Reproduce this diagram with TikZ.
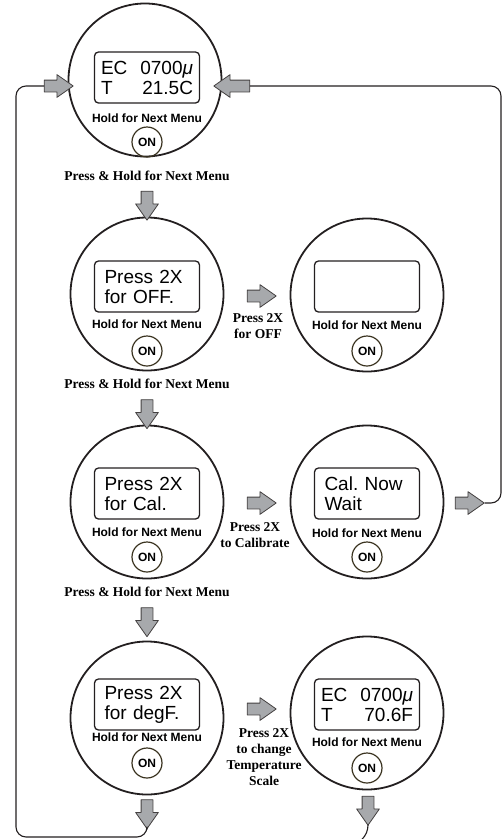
\documentclass[tikz,border=0pt]{standalone}
\usepackage{fontspec}
\setmainfont{Liberation Sans}
\newfontfamily\capfont{Liberation Serif}
\usetikzlibrary{calc,shapes.arrows}
\definecolor{inkdark}{HTML}{231F20}
\definecolor{arrowgray}{HTML}{A7A9AC}
\definecolor{onring}{HTML}{3A3320}
\tikzset{
    meter/.style={
        circle, draw=inkdark, line width=1.8pt,
        minimum size=153pt, inner sep=0pt
    },
    lcd/.style={
        draw=inkdark, line width=1.3pt, rounded corners=4pt,
        minimum width=105pt, minimum height=51pt, inner ysep=0pt,
        align=left, font=\fontsize{19}{20}\selectfont
    },
    lcdtext/.style={lcd, text width=85pt, inner xsep=10pt},
    lcdread/.style={lcd, text width=92pt, inner xsep=6.5pt},
    hold/.style={font=\bfseries\fontsize{12}{14}\selectfont, inner sep=0pt},
    onbtn/.style={
        circle, draw=onring, line width=1.2pt,
        minimum size=30pt, inner sep=0pt,
        font=\bfseries\fontsize{12}{14}\selectfont
    },
    blk/.style={
        single arrow, draw=inkdark!85, fill=arrowgray, line width=0.8pt,
        minimum height=29pt, inner sep=5.5pt,
        single arrow head extend=5.5pt, single arrow tip angle=70
    },
    note/.style={
        font=\capfont\bfseries\fontsize{13.5}{16}\selectfont,
        align=center, inner sep=0pt
    },
    loopline/.style={draw=inkdark, line width=1.1pt, rounded corners=10pt}
}

\begin{document}
\begin{tikzpicture}[x=1pt,y=-1pt,line cap=round,line join=round]

    \useasboundingbox (0,0) rectangle (503,839);

% --- left column: menu screens ---
    \node[meter] (m1) at (145,80) {};
    \node[lcdread] (d1) at (147,77.5)
        {\makebox[92pt]{EC\hfill 0700\textit{μ}}\\\makebox[92pt]{T\hfill 21.5C}};
    \node[hold] (h1) at (147,118) {Hold for Next Menu};
    \node[onbtn] (on1) at (147,142) {ON};
    \node[note] (p1) at (147,176) {Press \& Hold for Next Menu};

    \node[meter] (m2) at (147,294) {};
    \node[lcdtext] (d2) at (147,286.5) {Press 2X\\for OFF.};
    \node[hold] (h2) at (147,324) {Hold for Next Menu};
    \node[onbtn] (on2) at (147,351) {ON};
    \node[note] (p2) at (147,384) {Press \& Hold for Next Menu};

    \node[meter] (m3) at (147,502) {};
    \node[lcdtext] (d3) at (147,493.5) {Press 2X\\for Cal.};
    \node[hold] (h3) at (147,532) {Hold for Next Menu};
    \node[onbtn] (on3) at (147,557) {ON};
    \node[note] (p3) at (147,592) {Press \& Hold for Next Menu};

    \node[meter] (m4) at (147,718) {};
    \node[lcdtext] (d4) at (147,704.5) {Press 2X\\for degF.};
    \node[hold] (h4) at (147,737) {Hold for Next Menu};
    \node[onbtn] (on4) at (147,763) {ON};

% --- right column: results ---
    \node[meter] (r2) at (367,295) {};
    \node[lcdtext] (e2) at (367,286.5) {};
    \node[hold] (k2) at (367,325) {Hold for Next Menu};
    \node[onbtn] (rn2) at (367,351) {ON};

    \node[meter] (r3) at (367,502) {};
    \node[lcdtext] (e3) at (367,493.5) {Cal.\ Now\\Wait};
    \node[hold] (k3) at (367,533) {Hold for Next Menu};
    \node[onbtn] (rn3) at (367,557) {ON};

    \node[meter] (r4) at (367,713) {};
    \node[lcdread] (e4) at (367,704.5)
        {\makebox[92pt]{EC\hfill 0700\textit{μ}}\\\makebox[92pt]{T\hfill 70.6F}};
    \node[hold] (k4) at (367,742) {Hold for Next Menu};
    \node[onbtn] (rn4) at (367,768) {ON};

% --- block arrows down ---
    \node[blk, shape border rotate=270] (v1) at (147,201.5) {};
    \node[blk, shape border rotate=270] (v2) at (147,410) {};
    \node[blk, shape border rotate=270] (v3) at (147,618) {};
    \node[blk, shape border rotate=270] (v4) at (147,810) {};
    \node[blk, shape border rotate=270] (v5) at (368,806.5) {};

% --- block arrows across, with their labels ---
    \node[blk] (s2) at (257.5,296) {};
    \node[note, anchor=north] (t2) at (258,313.5) {Press 2X\\for OFF};
    \node[blk] (s3) at (257.5,503) {};
    \node[note, anchor=north] (t3) at (255,522.5) {Press 2X\\to Calibrate};
    \node[blk] (s4) at (257.5,709) {};
    \node[note, anchor=north] (t4) at (264,728.5)
        {Press 2X\\to change\\Temperature\\Scale};

% --- return arrows into the top screen ---
    \node[blk] (in1) at (54.5,86) {};
    \node[blk, shape border rotate=180, minimum height=36pt] (in2) at (236,86) {};
    \node[blk] (out3) at (465.5,503) {};

% loop lines
    \draw[loopline] (in1.tail) -| (16,837) -| (v4.tip);
    \draw[loopline] (out3.tip) -| (501,86) -- (in2.tail);
    \draw[loopline, rounded corners=20pt] (v5.tip) |- (330,845);

\end{tikzpicture}
\end{document}
